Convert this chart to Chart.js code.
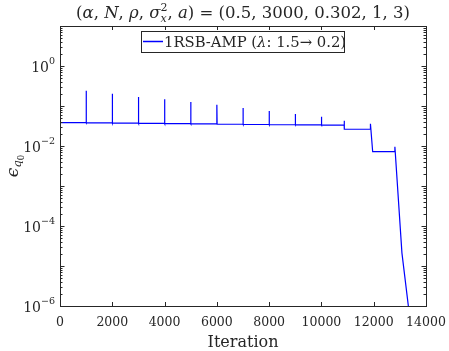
<!DOCTYPE html>
<html>
<head>
<meta charset="utf-8">
<script src="https://cdn.jsdelivr.net/npm/chart.js@4.4.1/dist/chart.umd.min.js"></script>
<style>
  body { margin: 0; background: #fff; }
  canvas { display: block; }
</style>
</head>
<body>
<canvas id="errChart" width="449" height="351"></canvas>
<script>
  // values
  const startIter = 0;
  const startValue = 0.30;
  const spikeIters = [1000, 2000, 3000, 4000, 5000, 6000, 7000, 8000, 9000, 10000, 10870];
  const spikePeaks = [0.241, 0.203, 0.168, 0.147, 0.126, 0.108, 0.089, 0.075, 0.063, 0.054, 0.043];
  // plateau level before each spike, last entry = plateau after the last spike
  const plateaus = [0.0385, 0.0380, 0.0373, 0.0367, 0.0361, 0.0356, 0.0350, 0.0345, 0.0340, 0.0336, 0.0332, 0.0262];
  // final phase
  const tailIters = [11860, 11875, 11960, 12800, 12810, 13080, 13325];
  const tailValues = [0.0262, 0.036, 0.0072, 0.0072, 0.0096, 2.1e-5, 1e-6];

  const xTicks = [0, 2000, 4000, 6000, 8000, 10000, 12000, 14000];
  const yLabelExps = [0, -2, -4, -6];

  const points = [{ x: startIter, y: startValue }, { x: startIter + 10, y: plateaus[0] }];
  spikeIters.forEach((it, i) => {
    points.push({ x: it, y: plateaus[i] });
    points.push({ x: it, y: spikePeaks[i] });
    points.push({ x: it + 10, y: plateaus[i + 1] });
  });
  tailIters.forEach((it, i) => points.push({ x: it, y: tailValues[i] }));

  const FONT = '"DejaVu Serif"';
  const AX = '#262626';

  function layoutRuns(ctx, runs) {
    let x = 0, prevStart = 0, prevW = 0;
    const items = [];
    for (const r of runs) {
      ctx.font = (r.it ? 'italic ' : '') + r.size + 'px ' + FONT;
      const w = ctx.measureText(r.t).width;
      let sx;
      if (r.stack) { sx = prevStart; x = Math.max(prevStart + prevW, sx + w); }
      else { sx = x; x += w; }
      items.push(Object.assign({}, r, { x: sx, w: w }));
      prevStart = sx; prevW = w;
    }
    return { items: items, width: x };
  }
  function drawRuns(ctx, runs, x, y, align) {
    const lay = layoutRuns(ctx, runs);
    const x0 = align === 'center' ? x - lay.width / 2 : (align === 'right' ? x - lay.width : x);
    ctx.textBaseline = 'alphabetic';
    ctx.textAlign = 'left';
    for (const r of lay.items) {
      ctx.font = (r.it ? 'italic ' : '') + r.size + 'px ' + FONT;
      ctx.fillText(r.t, x0 + r.x, y + (r.dy || 0));
    }
    return lay.width;
  }

  const decor = {
    id: 'decor',
    afterDraw(chart) {
      const ctx = chart.ctx;
      const a = chart.chartArea;
      const xs = chart.scales.x, ys = chart.scales.y;
      ctx.save();
      ctx.strokeStyle = AX;
      ctx.fillStyle = AX;
      ctx.lineWidth = 1;
      // box
      ctx.strokeRect(Math.round(a.left) + 0.5, Math.round(a.top) + 0.5,
        Math.round(a.right - a.left), Math.round(a.bottom - a.top));
      // x ticks (inward, bottom and top)
      ctx.beginPath();
      xTicks.forEach(v => {
        const px = Math.round(xs.getPixelForValue(v)) + 0.5;
        ctx.moveTo(px, a.bottom); ctx.lineTo(px, a.bottom - 4);
        ctx.moveTo(px, a.top); ctx.lineTo(px, a.top + 4);
      });
      // y ticks, decades and minors
      for (let e = -6; e <= 1; e++) {
        for (let k = 1; k <= 9; k++) {
          const v = k * Math.pow(10, e);
          if (v > 10.0001) continue;
          const py = Math.round(ys.getPixelForValue(v)) + 0.5;
          const len = k === 1 ? 4.5 : 2.5;
          ctx.moveTo(a.left, py); ctx.lineTo(a.left + len, py);
          ctx.moveTo(a.right, py); ctx.lineTo(a.right - len, py);
        }
      }
      ctx.stroke();

      // y tick labels
      yLabelExps.forEach(e => {
        const py = ys.getPixelForValue(Math.pow(10, e));
        const expText = e === 0 ? '0' : '\u2212' + (-e);
        drawRuns(ctx, [
          { t: '10', size: 14 },
          { t: expText, size: 9.5, dy: -8 }
        ], 55, py + 6, 'right');
      });

      // title
      const S = 16.5, s = 11;
      drawRuns(ctx, [
        { t: '(', size: S }, { t: '\u03b1', it: true, size: S }, { t: ', ', size: S },
        { t: 'N', it: true, size: S }, { t: ', ', size: S },
        { t: '\u03c1', it: true, size: S }, { t: ', ', size: S },
        { t: '\u03c3', it: true, size: S },
        { t: '2', size: s, dy: -7 }, { t: 'x', it: true, size: s, dy: 4, stack: true },
        { t: ', ', size: S }, { t: 'a', it: true, size: S },
        { t: ') = (0.5, 3000, 0.302, 1, 3)', size: S }
      ], 243, 18, 'center');

      // x axis title
      drawRuns(ctx, [{ t: 'Iteration', size: 16 }], 243, 347, 'center');

      // y axis title
      ctx.save();
      ctx.translate(18, 166);
      ctx.rotate(-Math.PI / 2);
      drawRuns(ctx, [
        { t: '\u03f5', it: true, size: 17 },
        { t: 'q', it: true, size: 11.5, dy: 3 },
        { t: '0', size: 8.5, dy: 6 }
      ], 0, 0, 'center');
      ctx.restore();

      // legend
      ctx.fillStyle = '#fff';
      ctx.fillRect(141.5, 31.5, 203, 21);
      ctx.strokeStyle = AX;
      ctx.strokeRect(141.5, 31.5, 203, 21);
      ctx.strokeStyle = '#0000ff';
      ctx.lineWidth = 1.5;
      ctx.beginPath();
      ctx.moveTo(143, 41.5); ctx.lineTo(163, 41.5);
      ctx.stroke();
      ctx.fillStyle = AX;
      drawRuns(ctx, [
        { t: '1RSB-AMP (', size: 14.8 }, { t: '\u03bb', it: true, size: 14.8 },
        { t: ': 1.5\u2192 0.2)', size: 14.8 }
      ], 164, 46.5, 'left');
      ctx.restore();
    }
  };

  new Chart(document.getElementById('errChart'), {
    type: 'line',
    data: {
      datasets: [{
        label: '1RSB-AMP (\u03bb: 1.5\u2192 0.2)',
        data: points,
        borderColor: '#0000ff',
        borderWidth: 1.2,
        pointRadius: 0,
        tension: 0,
        fill: false
      }]
    },
    options: {
      responsive: false,
      animation: false,
      layout: { padding: { left: 0, right: 23, top: 26, bottom: 0 } },
      plugins: { legend: { display: false }, title: { display: false }, tooltip: { enabled: false } },
      scales: {
        x: {
          type: 'linear', min: 0, max: 14000,
          grid: { display: false, drawTicks: false },
          border: { display: false },
          afterBuildTicks: s => { s.ticks = xTicks.map(v => ({ value: v })); },
          ticks: {
            padding: 9, color: AX, maxRotation: 0, autoSkip: false,
            font: { family: 'DejaVu Serif', size: 12.5 },
            callback: v => String(v)
          },
          afterFit: s => { s.height = 45; s.paddingLeft = 0; s.paddingRight = 0; }
        },
        y: {
          type: 'logarithmic', min: 1e-6, max: 10,
          grid: { display: false, drawTicks: false },
          border: { display: false },
          ticks: { display: false },
          afterFit: s => { s.width = 60; }
        }
      }
    },
    plugins: [decor]
  });
</script>
</body>
</html>
